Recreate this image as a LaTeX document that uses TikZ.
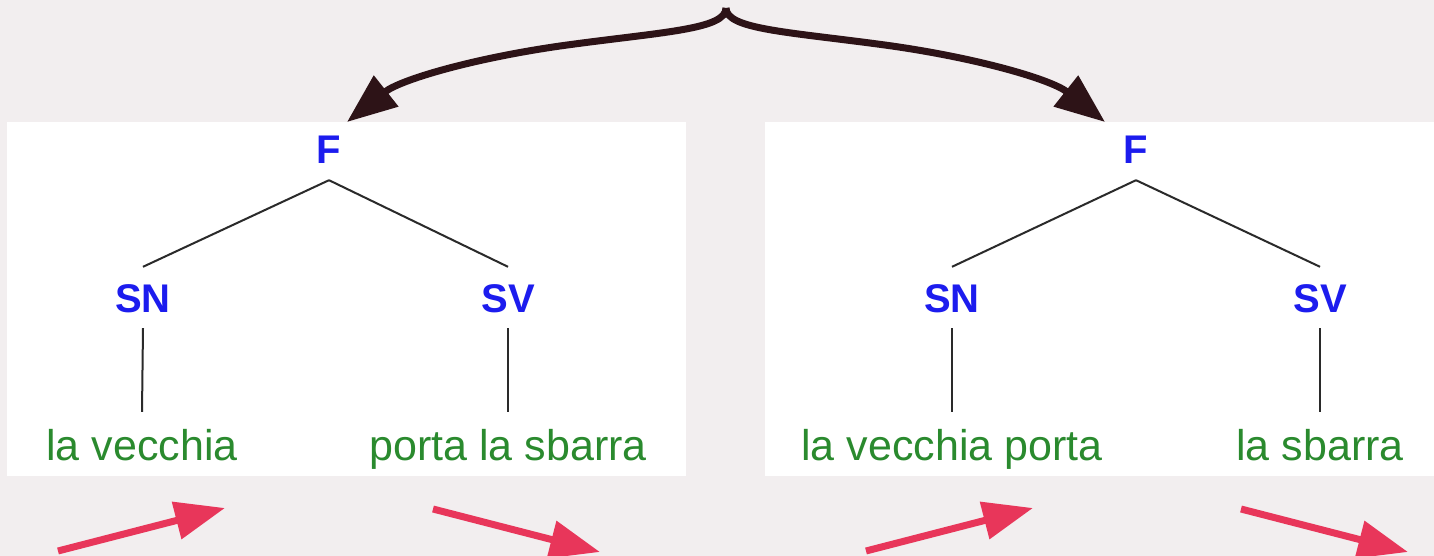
\documentclass[tikz,border=0pt]{standalone}
\usepackage{fontspec}
\setmainfont{Liberation Sans}
\usetikzlibrary{arrows.meta}
\definecolor{bgc}{HTML}{F2EEEF}
\definecolor{lblue}{HTML}{1C1CEE}
\definecolor{lgreen}{HTML}{2A8A2E}
\definecolor{bracec}{HTML}{2D1317}
\definecolor{redc}{HTML}{E8365A}
\definecolor{edgec}{HTML}{2A2A2A}
\tikzset{
  cat/.style={anchor=base, text=lblue, font=\fontsize{40}{46}\selectfont\bfseries, inner xsep=0pt, inner ysep=16pt, text height=29pt, text depth=0pt},
  leaf/.style={anchor=base, text=lgreen, font=\fontsize{43}{50}\selectfont, inner xsep=0pt, inner ysep=16pt, text height=32pt, text depth=0pt},
  edge/.style={draw=edgec, line width=2pt},
  brace/.style={draw=bracec, line width=7pt, -{Triangle[length=50pt,width=38pt]}},
  redarrow/.style={draw=redc, line width=7pt, -{Triangle[length=50pt,width=37pt]}},
  panel/.style={fill=white, draw=none}
}
\begin{document}
\begin{tikzpicture}[x=1pt,y=-1pt]
\useasboundingbox (0,0) rectangle (1434,556);
\fill[bgc] (0,0) rectangle (1434,556);
% panels
\fill[panel] (7,122) rectangle (686,476);
\fill[panel] (765,122) rectangle (1434,476);
% left tree
\node[cat] (F1) at (329,164) {F};
\node[cat] (SN1) at (143,312) {SN};
\node[cat] (SV1) at (508,312) {SV};
\node[leaf] (L1) at (142,460) {la vecchia};
\node[leaf] (R1) at (508,460) {porta la sbarra};
\draw[edge] (F1.south) -- (SN1.north);
\draw[edge] (F1.south) -- (SV1.north);
\draw[edge] (SN1.south) -- (L1.north);
\draw[edge] (SV1.south) -- (R1.north);
% right tree
\node[cat] (F2) at (1136,164) {F};
\node[cat] (SN2) at (952,312) {SN};
\node[cat] (SV2) at (1320,312) {SV};
\node[leaf] (L2) at (952,460) {la vecchia porta};
\node[leaf] (R2) at (1320,460) {la sbarra};
\draw[edge] (F2.south) -- (SN2.north);
\draw[edge] (F2.south) -- (SV2.north);
\draw[edge] (SN2.south) -- (L2.north);
\draw[edge] (SV2.south) -- (R2.north);
% brace arrows
\coordinate (top) at (726,8);
\coordinate (tipL) at (347,122);
\coordinate (tipR) at (1105,122);
\coordinate (midL) at (560,46);
\coordinate (midR) at (892,46);
\draw[brace] (top) .. controls (726,30) and (660,32) .. (midL) .. controls (470,59) and (400,80) .. (tipL);
\draw[brace] (top) .. controls (726,30) and (792,32) .. (midR) .. controls (982,59) and (1052,80) .. (tipR);
% red arrows
\coordinate (a1s) at (58,551);
\coordinate (a1e) at (225,508);
\coordinate (a2s) at (433,509);
\coordinate (a2e) at (600,552);
\coordinate (a3s) at (866,551);
\coordinate (a3e) at (1033,508);
\coordinate (a4s) at (1241,509);
\coordinate (a4e) at (1408,552);
\draw[redarrow] (a1s) -- (a1e);
\draw[redarrow] (a2s) -- (a2e);
\draw[redarrow] (a3s) -- (a3e);
\draw[redarrow] (a4s) -- (a4e);
\end{tikzpicture}
\end{document}
